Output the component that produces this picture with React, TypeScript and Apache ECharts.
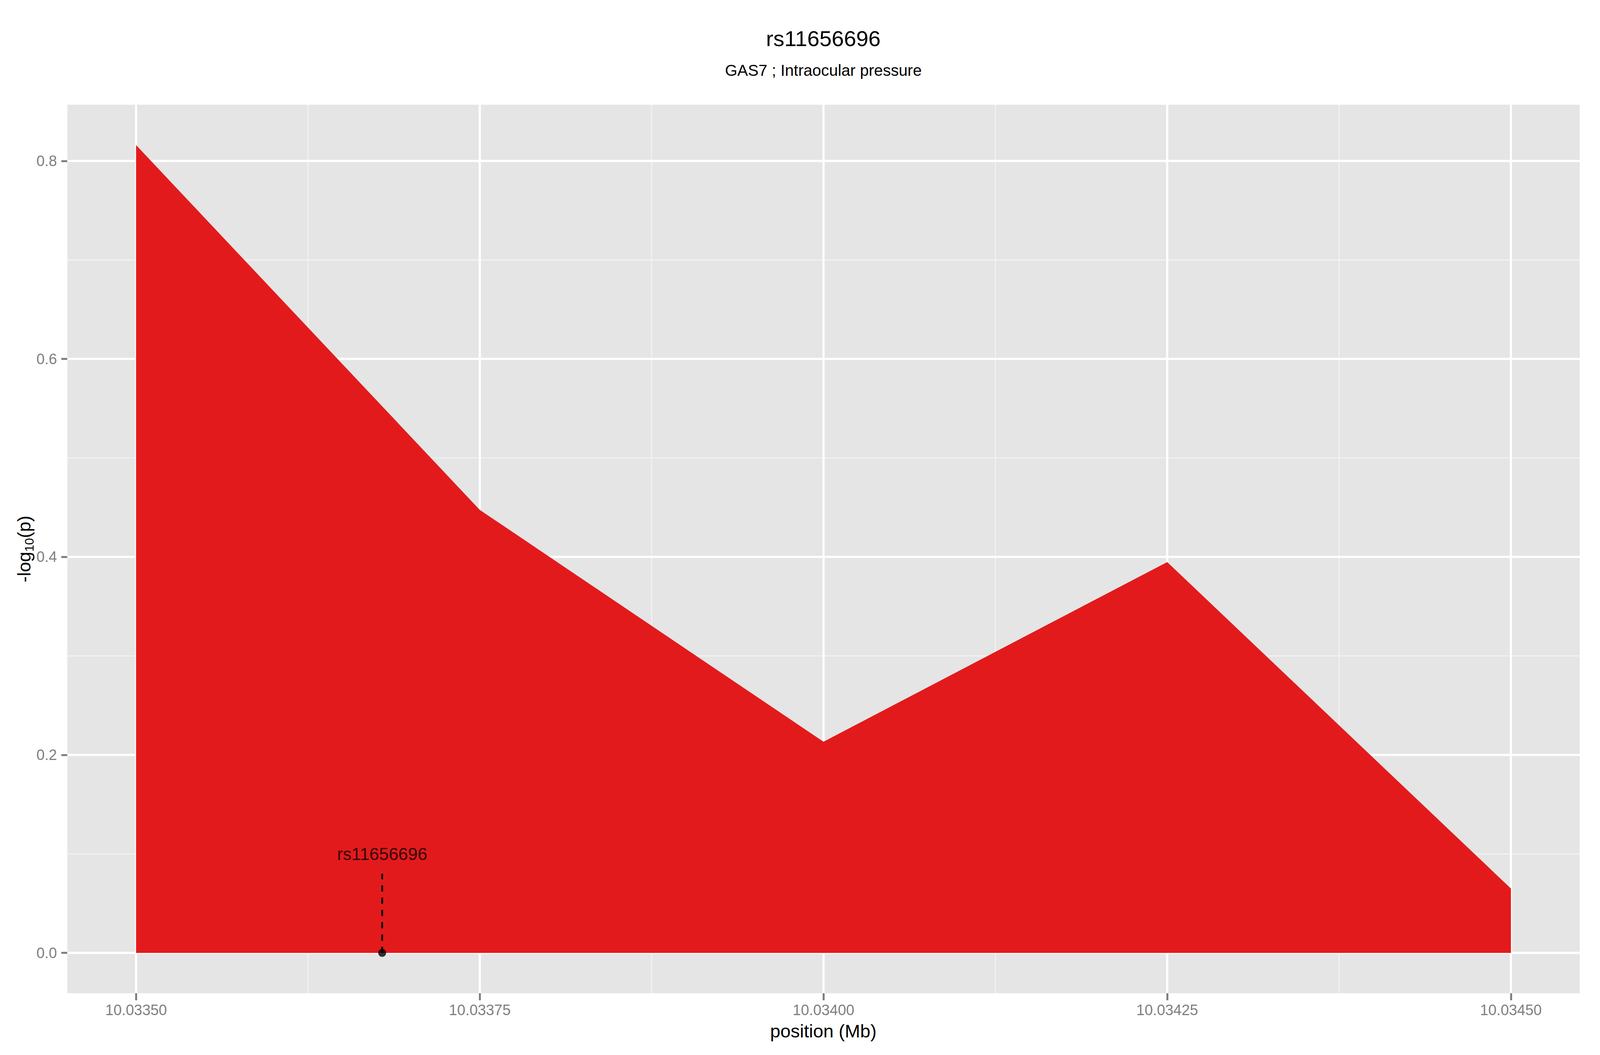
import { useEffect, useRef } from "react";
import * as echarts from "echarts";

// titles
const snpName = "rs11656696";
const subtitle = "GAS7 ; Intraocular pressure";
const xTitle = "position (Mb)";

// area: -log10(p) along position (Mb)
const positions = [10.0335, 10.03375, 10.034, 10.03425, 10.0345];
const logP = [0.816, 0.4475, 0.2133, 0.3948, 0.065];

// the snp marker
const snpPosition = 10.033679;
const snpSegmentTop = 0.08;
const snpLabelY = 0.1;

// axis breaks
const xBreaks = [10.0335, 10.03375, 10.034, 10.03425, 10.0345];
const xMinorBreaks = [10.033625, 10.033875, 10.034125, 10.034375];
const yBreaks = [0, 0.2, 0.4, 0.6, 0.8];
const yMinorBreaks = [0.1, 0.3, 0.5, 0.7];
const xLimits = [10.03345, 10.03455];
const yLimits = [-0.0408, 0.8568];

const FONT = "'Liberation Sans', Arial, Helvetica, sans-serif";
const GREY = "#7F7F7F";
const RED = "#E31A1C";

export default function App() {
  const chartRef = useRef<HTMLDivElement>(null);

  useEffect(() => {
    const el = chartRef.current;
    if (!el) return;
    const chart = echarts.init(el, null, { renderer: "svg" });

    // layout was measured on a 4800x2700 canvas; scale to whatever we got
    const W = el.clientWidth || 4800;
    const H = el.clientHeight || 2700;
    const sx = W / 4800;
    const sy = H / 2700;
    const s = Math.sqrt(sx * sy);
    const X = (v: number) => v * sx;
    const Y = (v: number) => v * sy;
    const F = (v: number) => v * s;

    // 0 = x major, 1 = x minor, 2 = y major, 3 = y minor (minor drawn first)
    const gridData = [
      ...xMinorBreaks.map((v) => [v, 1]),
      ...yMinorBreaks.map((v) => [v, 3]),
      ...xBreaks.map((v) => [v, 0]),
      ...yBreaks.map((v) => [v, 2]),
    ];

    const centerX = X(2470);

    const option: any = {
      animation: false,
      textStyle: { fontFamily: FONT },
      grid: {
        left: X(202),
        top: Y(268),
        right: X(61),
        bottom: Y(158),
        show: true,
        backgroundColor: "#E5E5E5",
        borderWidth: 0,
      },
      xAxis: {
        type: "value",
        min: xLimits[0],
        max: xLimits[1],
        axisLine: { show: false, onZero: false },
        axisTick: {
          show: true,
          length: Y(18),
          customValues: xBreaks,
          lineStyle: { color: GREY, width: F(5.5) },
        },
        axisLabel: {
          customValues: xBreaks,
          formatter: (v: number) => v.toFixed(5),
          color: GREY,
          fontSize: F(41),
          fontFamily: FONT,
          margin: Y(24),
        },
        splitLine: { show: false },
      },
      yAxis: {
        type: "value",
        min: yLimits[0],
        max: yLimits[1],
        axisLine: { show: false },
        axisTick: {
          show: true,
          length: X(18),
          customValues: yBreaks,
          lineStyle: { color: GREY, width: F(5.5) },
        },
        axisLabel: {
          customValues: yBreaks,
          formatter: (v: number) => v.toFixed(1),
          color: GREY,
          fontSize: F(41),
          fontFamily: FONT,
          margin: X(31),
        },
        splitLine: { show: false },
      },
      graphic: [
        {
          type: "text",
          x: centerX,
          y: Y(98),
          style: {
            text: snpName,
            fontSize: F(61),
            fontFamily: FONT,
            fill: "#000",
            align: "center",
            verticalAlign: "middle",
          },
        },
        {
          type: "text",
          x: centerX,
          y: Y(180),
          style: {
            text: subtitle,
            fontSize: F(44),
            fontFamily: FONT,
            fill: "#000",
            align: "center",
            verticalAlign: "middle",
          },
        },
        {
          type: "text",
          x: centerX,
          y: Y(2638),
          style: {
            text: xTitle,
            fontSize: F(51),
            fontFamily: FONT,
            fill: "#000",
            align: "center",
            verticalAlign: "middle",
          },
        },
        {
          type: "text",
          x: X(72),
          y: Y(1405),
          rotation: Math.PI / 2,
          style: {
            text: "{n|-log}{s|10}{n|(p)}",
            fontFamily: FONT,
            fill: "#000",
            align: "center",
            verticalAlign: "middle",
            rich: {
              n: {
                fontSize: F(51),
                lineHeight: F(51),
                verticalAlign: "top",
                fontFamily: FONT,
                fill: "#000",
              },
              s: {
                fontSize: F(34),
                lineHeight: F(34),
                padding: [F(24), 0, 0, 0],
                verticalAlign: "top",
                fontFamily: FONT,
                fill: "#000",
              },
            },
          },
        },
      ],
      series: [
        {
          // panel grid lines, under the area
          type: "custom",
          silent: true,
          z: 1,
          data: gridData,
          renderItem: (params: any, api: any) => {
            const v = api.value(0);
            const kind = api.value(1);
            const cs = params.coordSys;
            const major = kind === 0 || kind === 2;
            const style = {
              stroke: major ? "#FFFFFF" : "#F2F2F2",
              lineWidth: major ? F(6) : F(3),
            };
            if (kind < 2) {
              const px = api.coord([v, 0])[0];
              return {
                type: "line",
                shape: { x1: px, y1: cs.y, x2: px, y2: cs.y + cs.height },
                style,
              };
            }
            const py = api.coord([xLimits[0], v])[1];
            return {
              type: "line",
              shape: { x1: cs.x, y1: py, x2: cs.x + cs.width, y2: py },
              style,
            };
          },
        },
        {
          type: "line",
          z: 2,
          data: positions.map((x, i) => [x, logP[i]]),
          symbol: "none",
          lineStyle: { width: 0, color: RED },
          itemStyle: { color: RED },
          areaStyle: { color: RED, opacity: 1 },
        },
        {
          type: "line",
          z: 3,
          data: [
            [snpPosition, 0],
            [snpPosition, snpSegmentTop],
          ],
          symbol: "none",
          lineStyle: { color: "#000", width: F(5), type: [F(17), F(17)] },
        },
        {
          type: "scatter",
          z: 4,
          data: [[snpPosition, 0]],
          symbolSize: F(22),
          itemStyle: { color: "#000" },
        },
        {
          type: "scatter",
          z: 4,
          data: [[snpPosition, snpLabelY]],
          symbolSize: 2,
          itemStyle: { color: "rgba(0,0,0,0)" },
          label: {
            show: true,
            position: "inside",
            formatter: snpName,
            color: "#000",
            fontSize: F(48),
            fontFamily: FONT,
          },
        },
      ],
    };

    chart.setOption(option);
    return () => {
      chart.dispose();
    };
  }, []);

  return (
    <div
      ref={chartRef}
      style={{
        position: "fixed",
        left: 0,
        top: 0,
        width: "100vw",
        height: "100vh",
        background: "#fff",
      }}
    />
  );
}
